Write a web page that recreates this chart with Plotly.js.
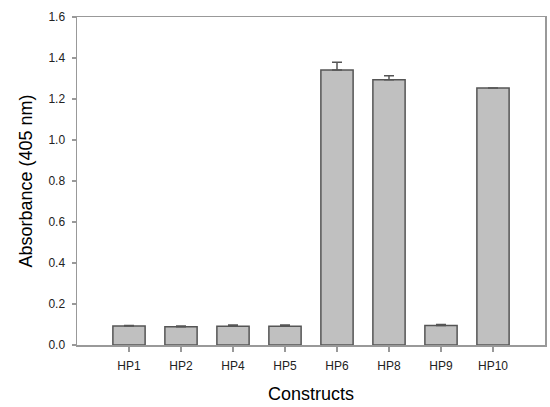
<!DOCTYPE html>
<html><head><meta charset="utf-8">
<script src="https://cdn.plot.ly/plotly-3.0.1.min.js"></script>
<style>html,body{margin:0;padding:0;background:#fff}#c{width:550px;height:407px}</style>
</head><body><div id="c"></div>
<script>
const categories = ["HP1","HP2","HP4","HP5","HP6","HP8","HP9","HP10"];
const absorbance = [0.093, 0.089, 0.092, 0.092, 1.341, 1.294, 0.095, 1.254];
const errors = [0.002, 0.004, 0.005, 0.005, 0.038, 0.019, 0.005, null];
const yTicks = [0,0.2,0.4,0.6,0.8,1.0,1.2,1.4,1.6];

Plotly.newPlot('c', [{
  type: 'bar',
  x: categories,
  y: absorbance,
  width: 0.62,
  marker: {color: '#c0c0c0', line: {color: '#555555', width: 1.5}},
  error_y: {type: 'data', array: errors, visible: true, symmetric: false, arrayminus: errors.map(()=>0), color: '#555555', thickness: 1.5, width: 5}
}], {
  width: 550, height: 407,
  margin: {l: 77, r: 5, t: 17, b: 62},
  paper_bgcolor: '#fff', plot_bgcolor: '#fff',
  font: {family: 'Liberation Sans, Arial, sans-serif', color: '#333'},
  showlegend: false,
  xaxis: {
    type: 'category', range: [-1, 8],
    showline: true, linecolor: '#999', linewidth: 1.5, mirror: true,
    ticks: 'outside', ticklen: 5, tickcolor: '#999', tickwidth: 1.5,
    ticklabelstandoff: 4,
    tickfont: {size: 12, color: '#222'},
    showgrid: false, zeroline: false,
    title: {text: 'Constructs', font: {size: 18, color: '#000'}, standoff: 15}
  },
  yaxis: {
    range: [0, 1.6], tickvals: yTicks, tickformat: '.1f',
    showline: true, linecolor: '#999', linewidth: 1.5, mirror: true,
    ticks: 'outside', ticklen: 4, tickcolor: '#999', tickwidth: 1.5,
    ticklabelstandoff: 4,
    tickfont: {size: 12, color: '#222'},
    showgrid: false, zeroline: false,
    title: {text: 'Absorbance (405 nm)', font: {size: 18, color: '#000'}, standoff: 11}
  },
  bargap: 0.4
}, {displayModeBar: false, staticPlot: true});
</script></body></html>
